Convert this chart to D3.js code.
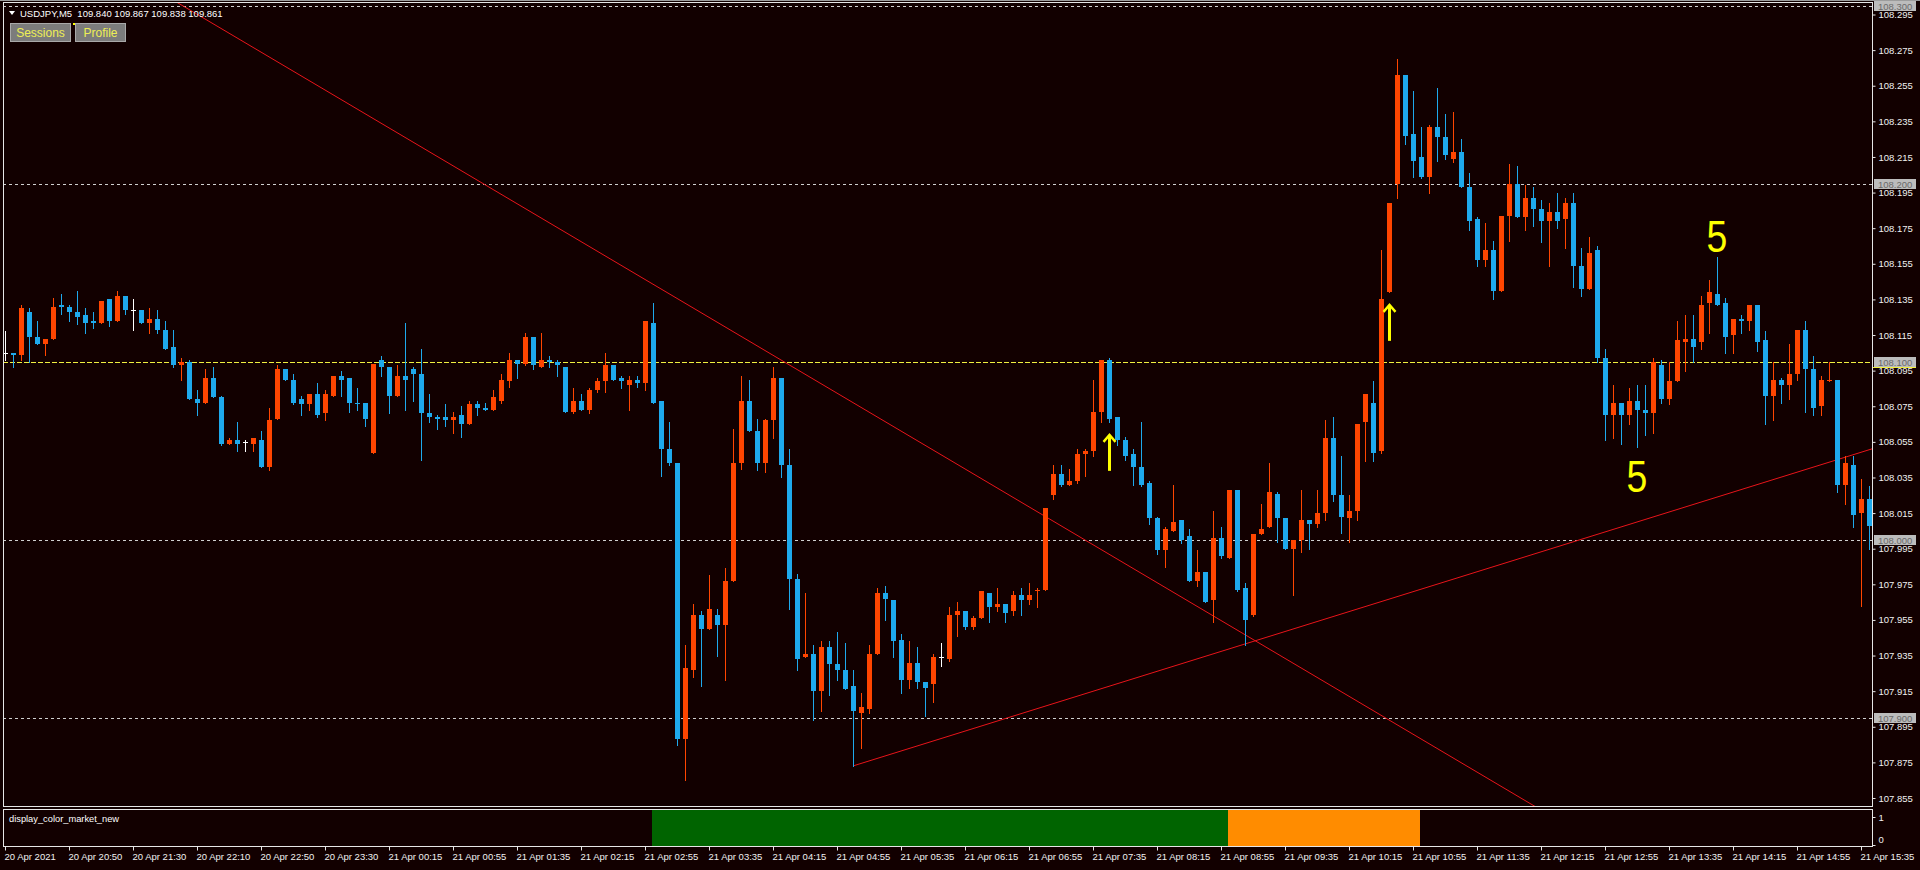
<!DOCTYPE html>
<html><head><meta charset="utf-8">
<script src="https://cdn.jsdelivr.net/npm/d3@7/dist/d3.min.js"></script>
<style>
html,body{margin:0;padding:0;background:#120000;overflow:hidden}
svg{display:block}
text{font-family:"Liberation Sans",Arial,sans-serif}
</style></head><body>
<svg id="chart" width="1920" height="870"></svg>
<script>
// ---------- DATA (USDJPY, M5) ----------
const symbolTitle = "USDJPY,M5  109.840 109.867 109.838 109.861";
const opens = [
108.105,108.105,108.104,108.128,108.114,108.110,108.113,108.132,108.131,108.128,
108.126,108.123,108.122,108.135,108.123,108.137,108.129,108.129,108.122,108.124,
108.118,108.108,108.098,108.100,108.079,108.077,108.091,108.080,108.054,108.056,
108.055,108.054,108.056,108.041,108.068,108.096,108.090,108.079,108.076,108.082,
108.071,108.081,108.092,108.091,108.077,108.077,108.049,108.101,108.097,108.081,
108.092,108.096,108.093,108.071,108.069,108.069,108.067,108.070,108.065,108.076,
108.074,108.073,108.078,108.089,108.101,108.099,108.114,108.097,108.101,108.100,
108.097,108.072,108.078,108.073,108.084,108.089,108.098,108.091,108.087,108.090,
108.088,108.122,108.078,108.051,108.043,107.888,107.927,107.958,107.950,107.958,
107.952,107.977,108.043,108.078,108.061,108.043,108.067,108.091,108.042,107.978,
107.934,107.936,107.915,107.940,107.930,107.927,107.918,107.903,107.905,107.936,
107.970,107.966,107.944,107.921,107.931,107.920,107.919,107.934,107.933,107.958,
107.960,107.951,107.956,107.970,107.962,107.964,107.960,107.969,107.966,107.971,
107.972,108.025,108.037,108.031,108.033,108.048,108.050,108.072,108.101,108.069,
108.056,108.048,108.041,108.032,108.012,107.994,108.005,108.011,108.002,107.977,
107.982,107.966,108.001,107.990,108.028,107.973,107.958,108.003,108.007,108.026,
108.012,107.995,108.000,108.011,108.009,108.015,108.057,108.025,108.012,108.016,
108.066,108.077,108.050,108.139,108.200,108.261,108.228,108.215,108.204,108.232,
108.226,108.214,108.218,108.198,108.180,108.157,108.163,108.140,108.182,108.200,
108.181,108.192,108.186,108.179,108.184,108.180,108.189,108.154,108.141,108.163,
108.102,108.070,108.077,108.070,108.078,108.073,108.071,108.098,108.079,108.089,
108.111,108.113,108.111,108.133,108.138,108.133,108.115,108.124,108.123,108.132,
108.112,108.081,108.090,108.087,108.093,108.118,108.096,108.075,108.089,108.090,
108.031,108.042,108.015,108.023];
const highs = [
108.117,108.105,108.132,108.130,108.123,108.113,108.136,108.138,108.132,108.140,
108.130,108.128,108.134,108.135,108.140,108.137,108.135,108.129,108.130,108.129,
108.123,108.118,108.102,108.101,108.084,108.096,108.097,108.081,108.057,108.066,
108.056,108.057,108.061,108.074,108.098,108.096,108.093,108.081,108.082,108.088,
108.084,108.092,108.095,108.091,108.085,108.077,108.099,108.103,108.097,108.098,
108.122,108.097,108.107,108.082,108.070,108.076,108.072,108.075,108.078,108.078,
108.077,108.084,108.093,108.105,108.101,108.116,108.114,108.116,108.103,108.101,
108.097,108.085,108.082,108.085,108.091,108.105,108.098,108.092,108.092,108.092,
108.123,108.133,108.078,108.066,108.043,107.941,107.964,107.960,107.980,107.961,
107.984,108.062,108.092,108.090,108.068,108.068,108.097,108.091,108.051,107.981,
107.970,107.941,107.943,107.943,107.948,107.942,107.927,107.914,107.941,107.973,
107.974,107.966,107.947,107.943,107.940,107.920,107.936,107.942,107.962,107.965,
107.960,107.957,107.971,107.970,107.973,107.964,107.971,107.973,107.976,107.973,
108.018,108.042,108.042,108.040,108.051,108.051,108.090,108.101,108.102,108.069,
108.058,108.051,108.066,108.033,108.013,108.007,108.031,108.011,108.006,107.994,
107.982,108.016,108.007,108.028,108.028,107.976,108.003,108.020,108.043,108.027,
108.012,108.000,108.028,108.011,108.028,108.067,108.069,108.047,108.025,108.065,
108.082,108.089,108.163,108.189,108.270,108.261,108.252,108.232,108.233,108.254,
108.239,108.240,108.225,108.206,108.181,108.178,108.168,108.182,108.211,108.210,
108.199,108.198,108.191,108.189,108.195,108.192,108.195,108.164,108.170,108.165,
108.107,108.087,108.077,108.085,108.087,108.087,108.102,108.101,108.100,108.123,
108.126,108.126,108.137,108.146,108.159,108.136,108.124,108.126,108.132,108.132,
108.117,108.100,108.091,108.110,108.118,108.123,108.103,108.092,108.100,108.090,
108.047,108.047,108.034,108.030];
const lows = [
108.101,108.097,108.101,108.100,108.110,108.104,108.113,108.127,108.123,108.121,
108.116,108.119,108.122,108.120,108.123,108.127,108.118,108.122,108.116,108.116,
108.107,108.097,108.090,108.079,108.070,108.077,108.080,108.053,108.054,108.050,
108.050,108.050,108.041,108.039,108.068,108.090,108.076,108.070,108.073,108.069,
108.067,108.081,108.081,108.072,108.073,108.064,108.049,108.092,108.071,108.081,
108.073,108.078,108.045,108.066,108.062,108.064,108.060,108.058,108.065,108.070,
108.073,108.073,108.077,108.086,108.091,108.098,108.096,108.097,108.097,108.092,
108.072,108.071,108.073,108.071,108.083,108.083,108.090,108.085,108.073,108.086,
108.084,108.077,108.036,108.042,107.885,107.865,107.923,107.918,107.950,107.935,
107.921,107.977,108.040,108.061,108.039,108.038,108.057,108.035,107.961,107.927,
107.934,107.899,107.904,107.913,107.921,107.916,107.873,107.883,107.903,107.936,
107.955,107.934,107.914,107.917,107.917,107.901,107.909,107.929,107.932,107.946,
107.950,107.950,107.956,107.954,107.960,107.954,107.958,107.958,107.964,107.962,
107.972,108.023,108.030,108.031,108.032,108.036,108.047,108.066,108.066,108.053,
108.045,108.031,108.030,108.009,107.992,107.985,108.005,107.998,107.977,107.974,
107.965,107.954,107.990,107.990,107.971,107.941,107.957,108.003,108.007,107.999,
107.995,107.969,107.993,107.995,108.007,108.011,108.022,108.004,107.999,108.011,
108.044,108.044,108.049,108.139,108.192,108.222,108.204,108.203,108.195,108.213,
108.214,108.212,108.198,108.174,108.154,108.154,108.135,108.140,108.168,108.181,
108.174,108.176,108.167,108.154,108.175,108.164,108.142,108.137,108.141,108.100,
108.056,108.057,108.054,108.065,108.052,108.059,108.060,108.077,108.076,108.089,
108.095,108.100,108.107,108.116,108.132,108.105,108.105,108.116,108.118,108.106,
108.065,108.067,108.077,108.079,108.090,108.072,108.070,108.070,108.089,108.027,
108.020,108.007,107.963,107.995];
const closes = [
108.105,108.104,108.130,108.114,108.110,108.113,108.131,108.131,108.128,108.125,
108.122,108.122,108.134,108.123,108.137,108.129,108.129,108.122,108.124,108.118,
108.107,108.098,108.100,108.079,108.077,108.091,108.080,108.054,108.056,108.054,
108.055,108.057,108.041,108.067,108.096,108.090,108.077,108.076,108.082,108.070,
108.082,108.092,108.090,108.077,108.076,108.068,108.099,108.097,108.081,108.092,
108.090,108.093,108.071,108.069,108.068,108.067,108.069,108.065,108.076,108.074,
108.073,108.080,108.090,108.101,108.099,108.114,108.098,108.101,108.100,108.098,
108.072,108.078,108.073,108.084,108.089,108.098,108.090,108.089,108.090,108.088,
108.123,108.077,108.051,108.043,107.888,107.928,107.958,107.950,107.961,107.952,
107.977,108.043,108.078,108.061,108.043,108.067,108.091,108.042,107.978,107.933,
107.936,107.915,107.940,107.930,107.927,107.916,107.904,107.906,107.936,107.970,
107.967,107.943,107.921,107.931,107.920,107.917,107.934,107.934,107.958,107.960,
107.951,107.956,107.971,107.962,107.964,107.959,107.969,107.966,107.969,107.972,
108.018,108.037,108.031,108.033,108.048,108.050,108.072,108.101,108.068,108.056,
108.047,108.041,108.031,108.012,107.994,108.006,108.010,108.000,107.977,107.982,
107.965,108.001,107.991,108.028,107.972,107.955,108.003,108.006,108.027,108.012,
107.995,108.000,108.011,108.009,108.015,108.057,108.025,108.013,108.016,108.065,
108.082,108.049,108.135,108.189,108.261,108.227,108.213,108.204,108.232,108.226,
108.216,108.218,108.198,108.179,108.157,108.163,108.140,108.182,108.200,108.181,
108.192,108.186,108.179,108.184,108.179,108.189,108.154,108.141,108.161,108.102,
108.070,108.077,108.070,108.078,108.073,108.071,108.100,108.079,108.089,108.112,
108.113,108.108,108.132,108.139,108.132,108.114,108.124,108.123,108.132,108.111,
108.081,108.090,108.087,108.093,108.118,108.096,108.074,108.090,108.090,108.031,
108.043,108.014,108.023,108.008];

const timeLabels = ["20 Apr 2021","20 Apr 20:50","20 Apr 21:30","20 Apr 22:10","20 Apr 22:50","20 Apr 23:30",
"21 Apr 00:15","21 Apr 00:55","21 Apr 01:35","21 Apr 02:15","21 Apr 02:55","21 Apr 03:35","21 Apr 04:15",
"21 Apr 04:55","21 Apr 05:35","21 Apr 06:15","21 Apr 06:55","21 Apr 07:35","21 Apr 08:15","21 Apr 08:55",
"21 Apr 09:35","21 Apr 10:15","21 Apr 10:55","21 Apr 11:35","21 Apr 12:15","21 Apr 12:55","21 Apr 13:35",
"21 Apr 14:15","21 Apr 14:55","21 Apr 15:35"];
const timeLabelBars = timeLabels.map((d,i)=>i*8);
const priceTicks = [108.295,108.275,108.255,108.235,108.215,108.195,108.175,108.155,108.135,108.115,108.095,
108.075,108.055,108.035,108.015,107.995,107.975,107.955,107.935,107.915,107.895,107.875,107.855];
const levelPrices = [108.300,108.200,108.000,107.900];
const yellowLevel = 108.100;
// trend lines: [bar, price] anchor pairs
const downTrend = [[50,108.226],[150,107.960]];
const upTrend = [[106,107.873],[155,107.9415]];
// annotations
const arrowBars = [138,173];
const arrowPrices = [108.0595,108.1325];
const waveBars = [214,204];
const wavePrices = [108.1618,108.027];
const waveText = ["5","5"];
// indicator (display_color_market_new): sessions
const sessionFrom = [81,153];
const sessionTo = [152,176];
const sessionColor = ["#006400","#ff8c00"];
const sessionValue = [1,1];

// ---------- LAYOUT ----------
const W=1920,H=870;
const plotL=3, plotR=1872, mainT=2, mainB=806, indT=809, indB=846;
const BG="#120000", UP="#ff4500", DN="#1ea9ec", DOJI="#ffffff";

const svg=d3.select("#chart");
svg.append("rect").attr("width",W).attr("height",H).attr("fill",BG);

const x=d3.scaleLinear().domain([0,233]).range([5,5+8*233]);
const y=d3.scaleLinear().domain([108.295,107.855]).range([14.5,798]);
const yInd=d3.scaleLinear().domain([0,1]).range([846,810]);

svg.append("defs").append("clipPath").attr("id","mainclip")
  .append("rect").attr("x",plotL+1).attr("y",mainT+1).attr("width",plotR-plotL-1).attr("height",mainB-mainT-1);
svg.select("defs").append("clipPath").attr("id","indclip")
  .append("rect").attr("x",plotL+1).attr("y",indT+1).attr("width",plotR-plotL-1).attr("height",indB-indT-1);

const main=svg.append("g").attr("clip-path","url(#mainclip)").attr("shape-rendering","crispEdges");

// horizontal levels
main.selectAll("line.lvl").data(levelPrices).join("line")
  .attr("x1",plotL).attr("x2",plotR)
  .attr("y1",d=>Math.round(y(d))+0.5).attr("y2",d=>Math.round(y(d))+0.5)
  .attr("stroke","#cfcfcf").attr("stroke-dasharray","3,3");
main.append("line").datum(yellowLevel)
  .attr("x1",plotL).attr("x2",plotR)
  .attr("y1",d=>Math.round(y(d))+0.5).attr("y2",d=>Math.round(y(d))+0.5)
  .attr("stroke","#f0f040").attr("stroke-width",1.5).attr("stroke-dasharray","5,2");

// trend lines
function trendLine(a, ext0, ext1){
  const [b0,p0]=a[0],[b1,p1]=a[1];
  const s=(p1-p0)/(b1-b0);
  return [[ext0,p0+s*(ext0-b0)],[ext1,p0+s*(ext1-b0)]];
}
const tl=svg.append("g").attr("clip-path","url(#mainclip)");
[trendLine(downTrend,-40,320), trendLine(upTrend,upTrend[0][0],320)].forEach(seg=>{
  tl.append("line").attr("x1",x(seg[0][0])).attr("y1",y(seg[0][1]))
    .attr("x2",x(seg[1][0])).attr("y2",y(seg[1][1]))
    .attr("stroke","#e8141a").attr("stroke-width",1);
});

// candles
const bars=d3.range(opens.length).map(i=>({i,o:opens[i],h:highs[i],l:lows[i],c:closes[i]}));
const col=d=>d.c>d.o?UP:(d.c<d.o?DN:DOJI);
const cg=svg.append("g").attr("clip-path","url(#mainclip)").attr("shape-rendering","crispEdges");
cg.selectAll("rect.wick").data(bars).join("rect")
  .attr("x",d=>Math.round(x(d.i))).attr("width",1)
  .attr("y",d=>Math.round(y(d.h))).attr("height",d=>Math.max(1,Math.round(y(d.l))-Math.round(y(d.h))+1))
  .attr("fill",col);
cg.selectAll("rect.body").data(bars).join("rect")
  .attr("x",d=>Math.round(x(d.i))-2).attr("width",5)
  .attr("y",d=>Math.round(y(Math.max(d.o,d.c))))
  .attr("height",d=>Math.max(1,Math.round(y(Math.min(d.o,d.c)))-Math.round(y(Math.max(d.o,d.c)))))
  .attr("fill",col);

// arrows
const ag=svg.append("g");
arrowBars.forEach((b,k)=>{
  const cx=Math.round(x(b))+0.5, ty=y(arrowPrices[k]);
  ag.append("line").attr("x1",cx).attr("x2",cx).attr("y1",ty+2).attr("y2",ty+37)
    .attr("stroke","#ffff00").attr("stroke-width",3);
  ag.append("path").attr("d",`M${cx-6},${ty+8}L${cx},${ty+1}L${cx+6},${ty+8}`)
    .attr("fill","none").attr("stroke","#ffff00").attr("stroke-width",2.4);
});
// wave labels
waveBars.forEach((b,k)=>{
  svg.append("text").attr("transform",`translate(${x(b)},${y(wavePrices[k])}) scale(0.85,1)`)
    .attr("text-anchor","middle").attr("font-size",44).attr("fill","#ffff00").text(waveText[k]);
});

// indicator histogram
const ig=svg.append("g").attr("clip-path","url(#indclip)").attr("shape-rendering","crispEdges");
ig.selectAll("rect").data(sessionFrom.map((f,k)=>({f,t:sessionTo[k],c:sessionColor[k],v:sessionValue[k]}))).join("rect")
  .attr("x",d=>x(d.f)-1).attr("width",d=>x(d.t)-x(d.f)+8)
  .attr("y",d=>yInd(d.v*1.0)-1).attr("height",d=>yInd(0)-yInd(d.v)+1)
  .attr("fill",d=>d.c);
svg.append("text").attr("x",9).attr("y",822).attr("font-size",9.3).attr("fill","#ffffff").text("display_color_market_new");

// frames
const fr=svg.append("g").attr("fill","none").attr("stroke","#e6e6e6").attr("shape-rendering","crispEdges");
fr.append("rect").attr("x",plotL+0.5).attr("y",mainT+0.5).attr("width",plotR-plotL).attr("height",mainB-mainT);
fr.append("rect").attr("x",plotL+0.5).attr("y",indT+0.5).attr("width",plotR-plotL).attr("height",indB-indT);
svg.append("line").attr("x1",0).attr("x2",W).attr("y1",0.5).attr("y2",0.5).attr("stroke","#9c9c9c");

// price axis
const pa=svg.append("g").attr("transform",`translate(${plotR+0.5},0)`)
  .call(d3.axisRight(y).tickValues(priceTicks).tickSize(3).tickPadding(3).tickFormat(d3.format(".3f")));
pa.select(".domain").remove();
pa.selectAll(".tick line").attr("stroke","#e6e6e6");
pa.selectAll(".tick text").attr("fill","#f0f0f0").attr("font-size",9.5).attr("font-family","Liberation Sans, Arial");

// level labels
const ll=svg.append("g");
levelPrices.concat([yellowLevel]).forEach(p=>{
  const yy=Math.round(y(p));
  ll.append("rect").attr("x",plotR+2).attr("y",yy-5).attr("width",42).attr("height",10).attr("fill","#bcbcbc");
  ll.append("text").attr("x",plotR+6).attr("y",yy+3.5).attr("font-size",9.5).attr("fill","#6a6a6a").text(d3.format(".3f")(p));
});
ll.append("line").attr("x1",plotR+1).attr("x2",plotR+44).attr("y1",Math.round(y(yellowLevel))+5.5).attr("y2",Math.round(y(yellowLevel))+5.5).attr("stroke","#f0f040");

// indicator axis
const ia=svg.append("g").attr("transform",`translate(${plotR+0.5},0)`);
[[1,817,820.5],[0,845,843]].forEach(([v,ty,tyT])=>{
  ia.append("line").attr("x1",0).attr("x2",3).attr("y1",ty+0.5).attr("y2",ty+0.5).attr("stroke","#e6e6e6");
  ia.append("text").attr("x",6).attr("y",tyT).attr("font-size",9.5).attr("fill","#f0f0f0").text(v);
});

// time axis
const ta=svg.append("g").attr("transform",`translate(0,${indB+0.5})`)
  .call(d3.axisBottom(x).tickValues(timeLabelBars).tickSize(4).tickPadding(3).tickFormat((d,i)=>timeLabels[i]));
ta.select(".domain").remove();
ta.selectAll(".tick line").attr("stroke","#e6e6e6");
ta.selectAll(".tick text").attr("fill","#f0f0f0").attr("font-size",9.5).attr("text-anchor","start").attr("dx",-1)
  .attr("font-family","Liberation Sans, Arial");

// header
svg.append("path").attr("d","M9,11L15,11L12,15Z").attr("fill","#ffffff");
svg.append("text").attr("x",20).attr("y",16.5).attr("font-size",9.5).attr("fill","#ffffff")
  .attr("xml:space","preserve").style("white-space","pre").text(symbolTitle);
const btns=[["Sessions",10,60],["Profile",75,50]];
btns.forEach(([t,bx,bw])=>{
  svg.append("rect").attr("x",bx+0.5).attr("y",23.5).attr("width",bw).attr("height",18)
    .attr("fill","#7c7c7c").attr("stroke","#a9a9a9");
  svg.append("text").attr("x",bx+bw/2+0.5).attr("y",37).attr("text-anchor","middle").attr("font-size",12)
    .attr("fill","#eeee55").text(t);
});
svg.append("rect").attr("x",73).attr("y",23).attr("width",2).attr("height",2).attr("fill","#ffff00");
</script>
</body></html>
